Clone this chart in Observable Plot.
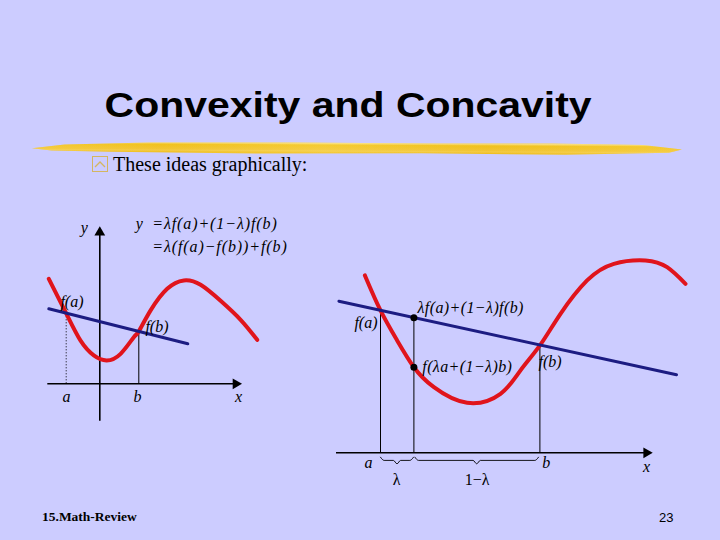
<!DOCTYPE html>
<html><head><meta charset="utf-8">
<script src="https://cdn.jsdelivr.net/npm/d3@7"></script>
<script src="https://cdn.jsdelivr.net/npm/@observablehq/plot@0.6"></script>
<style>
html,body{margin:0;padding:0;background:#CCCCFF;}
#slide{position:relative;width:720px;height:540px;overflow:hidden;background:#CCCCFF;}
.abs{position:absolute;white-space:nowrap;}
#title{left:0;width:697px;text-align:center;top:87px;font:bold 35px/35px "Liberation Sans",Arial,sans-serif;color:#000;}
#title span{display:inline-block;transform:scaleX(1.17);}
#hl{left:32px;top:140px;width:650px;height:16px;
 background:
  linear-gradient(180deg,rgba(255,245,200,0) 0%,rgba(255,245,200,.45) 22%,rgba(255,245,200,0) 32%,rgba(255,240,180,.3) 70%,rgba(255,240,180,0) 80%),
  linear-gradient(90deg,rgba(255,236,150,.15) 0%,rgba(225,165,0,.1) 20%,rgba(255,230,120,.2) 45%,rgba(225,165,0,.12) 70%,rgba(255,236,150,.15) 100%),
  linear-gradient(180deg,#f5d665 0%,#f2c41e 35%,#efb90c 62%,#f4cd48 100%);
 clip-path:polygon(0 62%,5% 38%,18% 22%,40% 18%,62% 20%,80% 16%,94% 22%,100% 48%,98% 70%,82% 86%,60% 80%,35% 88%,12% 82%,3% 76%);
 transform:rotate(0.3deg);}
#bullet{left:92px;top:156px;width:14px;height:14px;border:1px solid #d4b660;}
#bullet svg{position:absolute;left:0;top:0}
#sub{left:113px;top:154px;font:20px/20px "Liberation Serif","Times New Roman",serif;color:#000;}
#foot{left:42px;top:510px;font:bold 13.5px/14px "Liberation Serif","Times New Roman",serif;color:#000;}
#page{left:659px;top:511px;font:13px/14px "Liberation Sans",Arial,sans-serif;color:#000;}
.plot{position:absolute;}
</style>
</head><body>
<div id="slide">
  <div id="title" class="abs"><span>Convexity and Concavity</span></div>
  <div id="hl" class="abs"></div>
  <div id="bullet" class="abs"><svg width="14" height="14"><polyline points="2,10 7,5 12,10" fill="none" stroke="#d4b660" stroke-width="1.3"/></svg></div>
  <div id="sub" class="abs">These ideas graphically:</div>
  <div id="foot" class="abs">15.Math-Review</div>
  <div id="page" class="abs">23</div>
  <div id="left" class="plot" style="left:0px;top:200px"></div>
  <div id="right" class="plot" style="left:320px;top:240px"></div>
</div>
<script>
// ---------- Left diagram data (units) ----------
const leftCurveX = [-2.55, -1.68, -0.97, -0.3, 0.34, 1.04, 1.7, 1.95, 2.54, 3.37, 4.2, 5.04, 6.04, 7.04, 7.87];
const leftCurveY = [5.25, 3.52, 2.17, 1.42, 1.17, 1.5, 2.33, 2.62, 3.67, 4.75, 5.17, 4.95, 4.15, 3.2, 2.2];
const leftChordX = [-2.55, 4.4];
const leftChordY = [3.75, 2.0];
const leftA = -1.68, leftFa = 3.52;
const leftB = 1.95, leftFb = 2.62;
const leftXAxis = [-2.6, 6.8];
const leftYAxis = [-1.87, 7.57];
const leftLabels = ["y", "x", "a", "b", "f(a)", "f(b)"];
const leftLabelX = [-0.77, 6.94, -1.67, 1.89, -1.97, 2.28];
const leftLabelY = [7.8, -0.63, -0.63, -0.63, 4.12, 2.87];
const leftLabelAnchor = ["middle", "middle", "middle", "middle", "start", "start"];
const eqLines = ["y", "=λf(a)+(1−λ)f(b)", "=λ(f(a)−f(b))+f(b)"];
const eqX = [1.8, 2.62, 2.62];
const eqY = [8.02, 8.02, 6.86];

// ---------- Right diagram data (units) ----------
const rightCurveX = [1.42, 2.2, 3.03, 3.87, 4.87, 6.53, 8.2, 9.2, 10.17, 11.2, 12.53, 13.87, 15.45, 16.53, 17.45];
const rightCurveY = [8.87, 7.12, 5.62, 4.28, 3.28, 2.5, 2.95, 4.12, 5.37, 6.95, 8.62, 9.45, 9.62, 9.28, 8.45];
const rightChordX = [0.12, 17.0];
const rightChordY = [7.58, 3.9];
const rightVx = [2.2, 3.87, 10.17];
const rightVtop = [7.12, 6.75, 5.37];
const rightDotsX = [3.87, 3.87];
const rightDotsY = [6.75, 4.28];
const rightXAxis = [0, 15.5];
const rightLabels = ["f(a)", "λf(a)+(1−λ)f(b)", "f(λa+(1−λ)b)", "f(b)", "a", "b", "x", "λ", "1−λ"];
const rightLabelX = [2.05, 4.05, 4.29, 10.1, 1.6, 10.49, 15.5, 3.0, 7.03];
const rightLabelY = [6.48, 7.27, 4.28, 4.57, -0.49, -0.49, -0.72, -1.33, -1.33];
const rightLabelAnchor = ["end", "start", "start", "start", "middle", "middle", "middle", "middle", "middle"];
const rightLabelItalic = ["italic", "italic", "italic", "italic", "italic", "italic", "italic", "normal", "normal"];
const braceStarts = [2.2, 3.92];
const braceEnds = [3.85, 10.1];

// ---------- helpers ----------
const RED = "#e0141c", BLUE = "#1c1c82";
const serif = "Liberation Serif, Times New Roman, serif";
const zip2 = (xs, ys) => xs.map((x, i) => ({x, y: ys[i]}));
function brace(x0, x1) {
  const top = -0.22, flat = -0.38, tip = -0.55, e = 0.18, m = (x0 + x1) / 2;
  return [[x0, top], [x0 + e, flat], [m - e, flat], [m, tip], [m + e, flat], [x1 - e, flat], [x1, top]];
}
function basePlot(w, h, xd, yd, marks) {
  return Plot.plot({
    width: w, height: h,
    marginTop: 0, marginRight: 0, marginBottom: 0, marginLeft: 0,
    x: {domain: xd, axis: null},
    y: {domain: yd, axis: null},
    style: {background: "none", overflow: "visible"},
    marks
  });
}
function spaceFormulas(svg, minLen, spacing) {
  svg.querySelectorAll("text").forEach(t => {
    if (t.textContent.length >= minLen) t.setAttribute("letter-spacing", spacing);
  });
}

// ---------- left plot ----------
const leftCurve = zip2(leftCurveX, leftCurveY);
const leftChord = zip2(leftChordX, leftChordY);
const leftLab = leftLabels.map((t, i) => ({t, x: leftLabelX[i], y: leftLabelY[i], a: leftLabelAnchor[i]}));
const eq = eqLines.map((t, i) => ({t, x: eqX[i], y: eqY[i]}));
const leftPlot = basePlot(320, 230, [-4.965, 11.035], [-2.335, 9.165], [
  Plot.ruleY([0], {x1: leftXAxis[0], x2: leftXAxis[1], stroke: "black", strokeWidth: 1.6}),
  Plot.ruleX([0], {y1: leftYAxis[0], y2: leftYAxis[1], stroke: "black", strokeWidth: 1.6}),
  Plot.dot([{x: leftXAxis[1], y: 0}], {x: "x", y: "y", symbol: "triangle", r: 4, fill: "black", rotate: 90}),
  Plot.dot([{x: 0, y: leftYAxis[1]}], {x: "x", y: "y", symbol: "triangle", r: 4, fill: "black"}),
  Plot.ruleX([leftA], {y1: 0, y2: leftFa, stroke: "black", strokeWidth: 1, strokeDasharray: "1,2"}),
  Plot.ruleX([leftB], {y1: 0, y2: leftFb, stroke: "black", strokeWidth: 1}),
  Plot.line(leftCurve, {x: "x", y: "y", curve: "natural", stroke: RED, strokeWidth: 4}),
  Plot.line(leftChord, {x: "x", y: "y", stroke: BLUE, strokeWidth: 3}),
  Plot.text(leftLab.filter(d => d.a === "middle"), {x: "x", y: "y", text: "t", textAnchor: "middle", fontFamily: serif, fontStyle: "italic", fontSize: 16, fill: "black"}),
  Plot.text(leftLab.filter(d => d.a === "start"), {x: "x", y: "y", text: "t", textAnchor: "start", fontFamily: serif, fontStyle: "italic", fontSize: 16, fill: "black"}),
  Plot.text(eq, {x: "x", y: "y", text: "t", textAnchor: "start", fontFamily: serif, fontStyle: "italic", fontSize: 16, fill: "black"})
]);
spaceFormulas(leftPlot, 10, 0.9);
document.getElementById("left").append(leftPlot);

// ---------- right plot ----------
const rightCurve = zip2(rightCurveX, rightCurveY);
const rightChord = zip2(rightChordX, rightChordY);
const rightV = rightVx.map((x, i) => ({x, top: rightVtop[i]}));
const rightDots = zip2(rightDotsX, rightDotsY);
const rightLab = rightLabels.map((t, i) => ({t, x: rightLabelX[i], y: rightLabelY[i], a: rightLabelAnchor[i], s: rightLabelItalic[i]}));
const braces = braceStarts.flatMap((x0, i) => brace(x0, braceEnds[i]).map(([x, y]) => ({x, y, k: i})));
const rightPlot = basePlot(400, 250, [-0.8, 19.2], [-1.885, 10.615], [
  Plot.ruleY([0], {x1: rightXAxis[0], x2: rightXAxis[1], stroke: "black", strokeWidth: 1.6}),
  Plot.dot([{x: rightXAxis[1], y: 0}], {x: "x", y: "y", symbol: "triangle", r: 4, fill: "black", rotate: 90}),
  Plot.ruleX(rightV, {x: "x", y1: 0, y2: "top", stroke: "black", strokeWidth: 1}),
  Plot.line(braces, {x: "x", y: "y", z: "k", curve: "monotone-x", stroke: "black", strokeWidth: 0.9}),
  Plot.line(rightCurve, {x: "x", y: "y", curve: "natural", stroke: RED, strokeWidth: 4}),
  Plot.line(rightChord, {x: "x", y: "y", stroke: BLUE, strokeWidth: 3}),
  Plot.dot(rightDots, {x: "x", y: "y", r: 3.5, fill: "black"}),
  ...["start", "middle", "end"].flatMap(a => ["italic", "normal"].map(s =>
    Plot.text(rightLab.filter(d => d.a === a && d.s === s), {x: "x", y: "y", text: "t", textAnchor: a, fontFamily: serif, fontStyle: s, fontSize: 16, fill: "black"})))
]);
spaceFormulas(rightPlot, 10, 0.4);
document.getElementById("right").append(rightPlot);
</script>
</body></html>
